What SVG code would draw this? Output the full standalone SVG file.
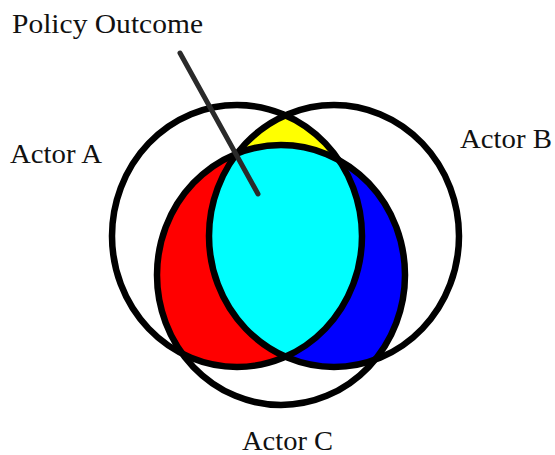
<svg xmlns="http://www.w3.org/2000/svg" width="555" height="455" viewBox="0 0 555 455">
<style>
.lbl{font-family:"Liberation Serif","Times New Roman",serif;font-size:28px;fill:#111}
.ring{fill:none;stroke:#000;stroke-width:6.5}
.conn{stroke:#2a2a2a;stroke-width:5;stroke-linecap:round;fill:none}
</style>
<defs>
<clipPath id="clipA"><ellipse cx="237" cy="236" rx="125" ry="131"/></clipPath>
<clipPath id="clipB"><ellipse cx="334" cy="236" rx="125" ry="131"/></clipPath>
<clipPath id="clipC"><ellipse cx="281" cy="275" rx="124" ry="130"/></clipPath>
</defs>
<rect width="555" height="455" fill="#fff"/>
<g id="fills">
<g clip-path="url(#clipA)"><ellipse cx="334" cy="236" rx="125" ry="131" fill="#ffff00"/></g>
<g clip-path="url(#clipA)"><ellipse cx="281" cy="275" rx="124" ry="130" fill="#ff0000"/></g>
<g clip-path="url(#clipB)"><ellipse cx="281" cy="275" rx="124" ry="130" fill="#0000ff"/></g>
<g clip-path="url(#clipA)"><g clip-path="url(#clipB)"><ellipse cx="281" cy="275" rx="124" ry="130" fill="#00ffff"/></g></g>
</g>
<g id="actorA">
<ellipse class="ring" cx="237" cy="236" rx="125" ry="131"/>
<text class="lbl" x="10" y="163" textLength="92" lengthAdjust="spacingAndGlyphs">Actor A</text>
</g>
<g id="actorB">
<ellipse class="ring" cx="334" cy="236" rx="125" ry="131"/>
<text class="lbl" x="460" y="148" textLength="92" lengthAdjust="spacingAndGlyphs">Actor B</text>
</g>
<g id="actorC">
<ellipse class="ring" cx="281" cy="275" rx="124" ry="130"/>
<text class="lbl" x="242" y="450" textLength="91" lengthAdjust="spacingAndGlyphs">Actor C</text>
</g>
<g id="policyOutcome">
<text class="lbl" x="12" y="33" textLength="191" lengthAdjust="spacingAndGlyphs">Policy Outcome</text>
</g>
<g id="connectors">
<line class="conn" x1="180" y1="53" x2="258" y2="194"/>
</g>
</svg>
